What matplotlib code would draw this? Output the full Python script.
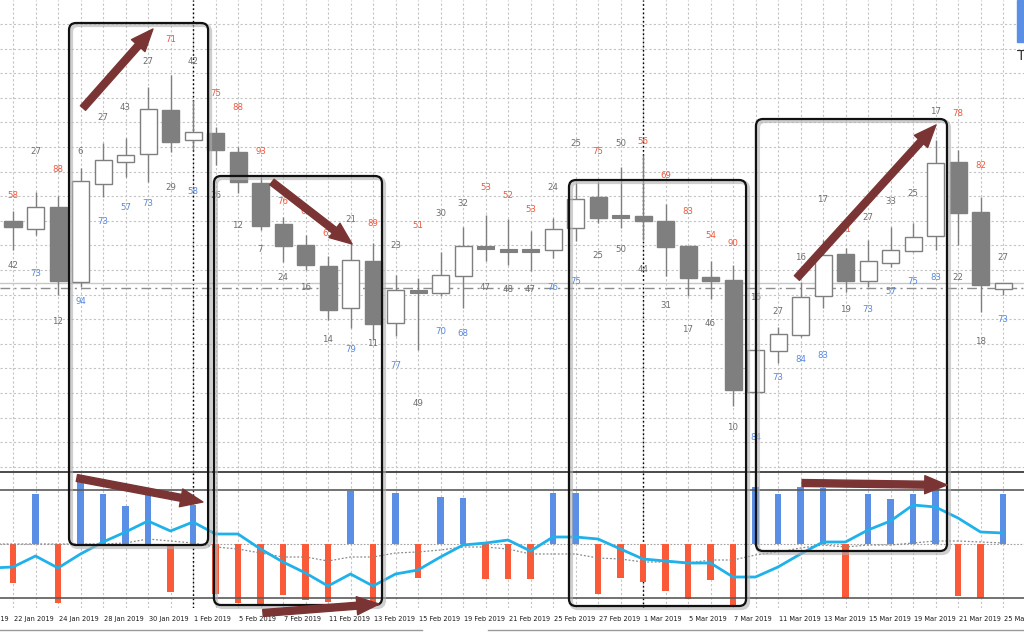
import numpy as np
import pandas as pd
import matplotlib
matplotlib.use('Agg')
import matplotlib.pyplot as plt
from matplotlib import font_manager
from matplotlib.patches import Rectangle, FancyBboxPatch, FancyArrowPatch
from matplotlib.transforms import IdentityTransform

# narrow font if there is one, else scale DejaVu down
avail = {f.name for f in font_manager.fontManager.ttflist}
if 'Liberation Sans Narrow' in avail:
    num_font, num_size, date_size = 'Liberation Sans Narrow', 7.8, 6.2
elif 'DejaVu Sans Condensed' in avail:
    num_font, num_size, date_size = 'DejaVu Sans Condensed', 6.6, 5.3
else:
    num_font, num_size, date_size = 'DejaVu Sans', 6.2, 4.8
plt.rcParams['font.family'] = [num_font, 'DejaVu Sans']

# trading days shown (18 Jan is only a clipped label at the left edge)
days = pd.bdate_range('2019-01-18', '2019-03-25')
first_bar = 2  # 22 Jan is bar 0

# candles, 22 Jan .. 25 Mar (chart units, no price scale visible)
opens  = [251, 243, 265, 190, 288, 310, 318, 362, 332, 339, 320, 289, 248, 227, 206,
          164, 211, 149, 181, 179, 196, 226, 222, 222, 222, 244, 275, 256, 256, 251,
          226, 195, 192, 80, 121, 137, 176, 218, 191, 209, 221, 236, 310, 260, 183]
highs  = [261, 280, 276, 304, 329, 334, 385, 397, 372, 345, 325, 295, 255, 237, 216,
          229, 229, 197, 194, 220, 245, 257, 253, 241, 254, 289, 290, 305, 317, 268,
          226, 211, 207, 122, 145, 190, 232, 224, 232, 245, 249, 332, 322, 275, 189]
lows   = [222, 237, 177, 185, 275, 295, 290, 320, 322, 307, 279, 242, 210, 202, 152,
          144, 132, 136, 122, 176, 164, 211, 207, 201, 214, 231, 249, 244, 232, 196,
          176, 173, 66, 80, 109, 135, 164, 180, 185, 205, 220, 222, 227, 160, 177]
closes = [245, 265, 191, 291, 312, 317, 363, 330, 340, 322, 290, 246, 226, 207, 162,
          212, 148, 182, 180, 197, 226, 224, 221, 221, 243, 273, 254, 255, 251, 225,
          194, 191, 82, 122, 138, 175, 217, 191, 211, 222, 235, 309, 259, 187, 189]

# numbers printed above / below each candle
hi_txt = ['58', '27', '88', '6', '27', '43', '27', '71', '42', '75', '88', '93', '76', '68', '65',
          '21', '89', '23', '51', '30', '32', '53', '52', '53', '24', '25', '75', '50', '56', '69',
          '83', '54', '90', '16', '27', '16', '17', '61', '27', '33', '25', '17', '78', '82', '27']
hi_col = ['r', 'g', 'r', 'g', 'g', 'g', 'g', 'r', 'g', 'r', 'r', 'r', 'r', 'r', 'r',
          'g', 'r', 'g', 'r', 'g', 'g', 'r', 'r', 'r', 'g', 'g', 'r', 'g', 'r', 'r',
          'r', 'r', 'r', 'g', 'g', 'g', 'g', 'r', 'g', 'g', 'g', 'g', 'r', 'r', 'g']
hi_lvl = [276, 320, 302, 321, 354, 365, 410, 433, 411, 378, 365, 320, 271, 260, 239,
          252, 248, 226, 247, 258, 269, 285, 277, 262, 284, 329, 321, 328, 330, 297,
          261, 237, 229, 175, 160, 215, 273, 243, 255, 270, 278, 360, 358, 306, 215]
lo_txt = ['42', '73', '12', '94', '73', '57', '73', '29', '58', '26', '12', '7', '24', '16', '14',
          '79', '11', '77', '49', '70', '68', '47', '48', '47', '76', '75', '25', '50', '44', '31',
          '17', '46', '10', '84', '73', '84', '83', '19', '73', '57', '75', '83', '22', '18', '73']
lo_col = ['g', 'b', 'g', 'b', 'b', 'b', 'b', 'g', 'b', 'g', 'g', 'g', 'g', 'g', 'g',
          'b', 'g', 'b', 'g', 'b', 'b', 'g', 'g', 'g', 'b', 'b', 'g', 'g', 'g', 'g',
          'g', 'g', 'g', 'b', 'b', 'b', 'b', 'g', 'b', 'b', 'b', 'b', 'g', 'g', 'b']
lo_lvl = [206, 198, 150, 170, 251, 265, 268, 285, 281, 276, 246, 222, 195, 184, 133,
          122, 128, 107, 68, 140, 139, 184, 183, 183, 184, 190, 216, 222, 203, 166,
          143, 148, 45, 34, 95, 112, 116, 163, 163, 180, 190, 195, 195, 131, 153]

# lower window: histogram, main line and dotted signal (lines start at 21 Jan)
hist = [-39, 50, -59, 62, 50, 38, 49, -48, 39, -50, -59, -62, -51, -56, -58,
        53, -60, 51, -34, 47, 46, -35, -35, -35, 51, 51, -50, -34, -38, -47,
        -55, -36, -61, 57, 50, 57, 56, -54, 50, 45, 50, 55, -52, -54, 50]
main_line = [-24, -23, -12, -24, -10, 2, 12, 23, 13, 22, 10, 10, -5, -18, -29, -42,
             -30, -42, -30, -26, -13, -1, 1, 4, -7, 7, 7, 5, -5, -15, -17,
             -19, -19, -33, -33, -23, -10, 2, 2, 14, 23, 39, 37, 26, 12, 11]
signal = [0, 0, 0, 0, 0, 0, 1, 5, 3, 1, -3, -5, -9, -13, -13, -17,
          -13, -13, -9, -8, -6, -3, -3, -5, -10, -10, -10, -14, -15, -18, -18,
          -19, -16, -16, -11, -8, -4, -1, -3, -1, -1, 1, 3, 3, 2, 1]
level_hi, level_lo = 54, -54

colors = {'g': '#6e6e6e', 'r': '#f0573b', 'b': '#5688e0'}
grey = '#7f7f7f'

W, H = 1024, 632
fig = plt.figure(figsize=(W / 100, H / 100), dpi=100)
ax = fig.add_axes([0, 1 - 472 / H, 1, 472 / H])
axb = fig.add_axes([0, 1 - 608 / H, 1, 136 / H])

xlim = (-13 / 22.5, (W - 13) / 22.5)
for a in (ax, axb):
    a.set_xticks(np.arange(-2, 46))
    a.set_xlim(*xlim)
    a.tick_params(length=0, labelbottom=False, labelleft=False)
    a.grid(axis='x', color='#c4c4c4', ls=(0, (2, 2)), lw=0.8)
    for s in a.spines.values():
        s.set_visible(False)
    a.set_axisbelow(True)

ax.set_yticks(448 - 24.6 * np.arange(19))
ax.set_ylim(0, 472)
ax.grid(axis='y', color='#c4c4c4', ls=(0, (2, 2)), lw=0.8)
axb.set_yticks([])
axb.set_ylim(-64, 72)

x = np.arange(len(opens))
# month separators
for k in range(1, len(days)):
    if days[k].month != days[k - 1].month:
        for a in (ax, axb):
            a.axvline(k - first_bar, color='k', ls=(0, (1.2, 1.8)), lw=1.0, zorder=1)

# bid / reference lines
ax.axhline(189.3, color='#c8c8c8', lw=1.0, zorder=1)
ax.axhline(184, color='#8c8c8c', lw=1.0, ls=(0, (7, 3, 1.5, 3)), zorder=1)

bw = 17 / 22.5
for i in x:
    o, h, l, c = opens[i], highs[i], lows[i], closes[i]
    ax.vlines(i, l, h, color=grey, lw=1.0, zorder=2)
    if abs(c - o) <= 2:
        ax.add_patch(Rectangle((i - bw / 2, min(o, c) - 1), bw, 3, facecolor=grey,
                               edgecolor=grey, lw=0.8, zorder=3))
    elif c > o:
        ax.add_patch(Rectangle((i - bw / 2, o), bw, c - o, facecolor='white',
                               edgecolor=grey, lw=1.0, zorder=3))
    else:
        ax.add_patch(Rectangle((i - bw / 2, c), bw, o - c, facecolor=grey,
                               edgecolor=grey, lw=1.0, zorder=3))

for i in x:
    ax.text(i, hi_lvl[i], hi_txt[i], color=colors[hi_col[i]], fontsize=num_size,
            ha='center', va='center', zorder=4)
    ax.text(i, lo_lvl[i], lo_txt[i], color=colors[lo_col[i]], fontsize=num_size,
            ha='center', va='center', zorder=4)

# lower window
hist = np.array(hist)
axb.bar(x, hist, width=6.5 / 22.5, color=np.where(hist > 0, '#5b8fe6', '#fa5a37'), zorder=2)
xl = np.arange(-1, len(main_line) - 1)
axb.plot(xl, signal, color='#8a8a8a', ls=(0, (1.5, 1.5)), lw=0.9, zorder=3)
axb.plot(xl, main_line, color='#1fb1ea', lw=2.0, zorder=4)
axb.axhline(0, color='#a0a0a0', ls=(0, (1.5, 1.5)), lw=0.8, zorder=1)
axb.axhline(level_hi, color='#5a5a5a', lw=1.2, zorder=5)
axb.axhline(level_lo, color='#5a5a5a', lw=1.2, zorder=5)
axb.axhline(72, color='#4a4a4a', lw=1.4, zorder=5, clip_on=False)

for k in range(0, len(days), 2):
    d = days[k]
    axb.text(k - first_bar + 0.06, -75, f"{d.day} {d.strftime('%b %Y')}", fontsize=date_size,
             color='#1a1a1a', ha='left', va='center', clip_on=False)

# tab strip at the very bottom
fig.add_artist(plt.Line2D([0, 422 / W], [2.5 / H, 2.5 / H], color='#9a9a9a', lw=1.0))
fig.add_artist(plt.Line2D([488 / W, 1], [2.5 / H, 2.5 / H], color='#9a9a9a', lw=1.0))

# top right corner widget
fig.add_artist(Rectangle((1017 / W, 1 - 42 / H), 7 / W, 42 / H, color='#5b8fe6',
                         transform=fig.transFigure))
fig.text(1017 / W, 1 - 56 / H, 'T', fontsize=10, color='#333333', family='DejaVu Sans',
         va='center')


def px(i, ytop):
    return ax.transData.transform((i, 0))[0], H - ytop


boxes = [(2.49, 8.67, 23, 545), (8.93, 16.4, 176, 605),
         (24.71, 32.58, 180, 606), (33.02, 41.51, 119, 551)]
for i0, i1, y0, y1 in boxes:
    xa, ya = px(i0, y1)
    xb, yb = px(i1, y0)
    fig.add_artist(FancyBboxPatch((xa + 2, ya - 2), xb - xa, yb - ya,
                                  boxstyle='round,pad=0,rounding_size=7', fill=False,
                                  edgecolor='#b0b0b0', lw=3, alpha=0.6,
                                  transform=IdentityTransform(), zorder=2))
    fig.add_artist(FancyBboxPatch((xa, ya), xb - xa, yb - ya,
                                  boxstyle='round,pad=0,rounding_size=7', fill=False,
                                  edgecolor='#111111', lw=1.6,
                                  transform=IdentityTransform(), zorder=3))

arrows = [((3.11, 108), (6.22, 29)), ((11.51, 182), (15.07, 244)),
          ((34.84, 278), (41.02, 125)), ((2.84, 478), (8.44, 502)),
          ((11.11, 613), (16.27, 604)), ((35.07, 483), (41.51, 485))]
for a0, a1 in arrows:
    fig.add_artist(FancyArrowPatch(px(*a0), px(*a1),
                                   arrowstyle='simple,head_length=16,head_width=13,tail_width=5',
                                   mutation_scale=1, shrinkA=0, shrinkB=0,
                                   color='#7a3434', transform=IdentityTransform(), zorder=4))

fig.savefig('out.png', dpi=100, facecolor='white')
